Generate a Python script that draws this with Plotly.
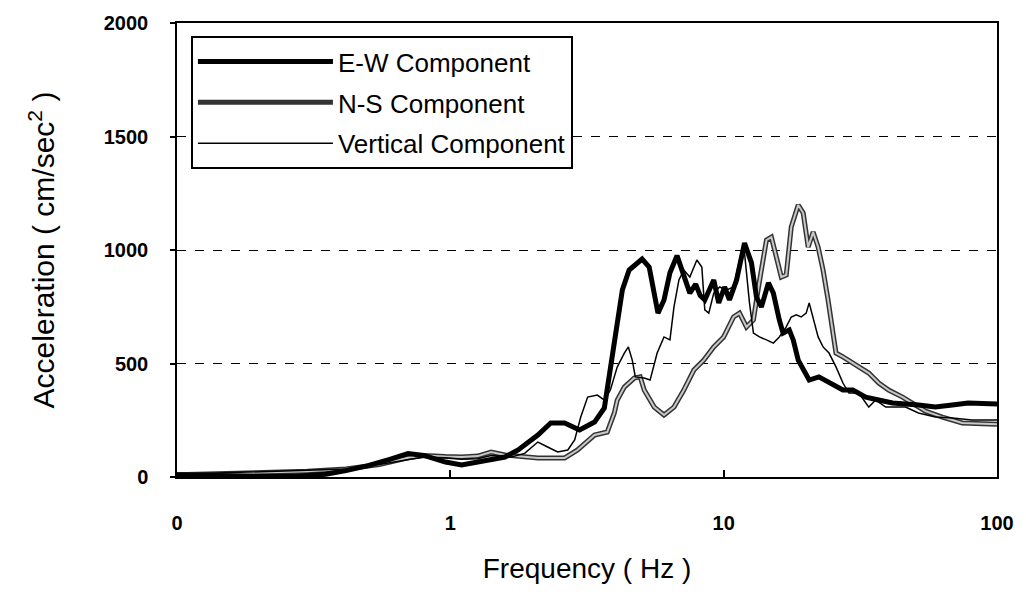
import plotly.graph_objects as go

# E-W component
ew_f = [0.1, 0.14, 0.2, 0.28, 0.35, 0.415, 0.5, 0.6, 0.7, 0.8, 0.9, 0.96, 1.1, 1.26, 1.41, 1.585,
        1.77, 2.09, 2.33, 2.62, 2.97, 3.37, 3.66, 3.85, 4.08, 4.26, 4.51, 4.83, 5.03, 5.34, 5.57,
        5.75, 6.05, 6.36, 6.75, 7.1, 7.52, 7.9, 8.2, 8.53, 9.2, 9.59, 10.08, 10.5, 11.15, 11.92,
        12.64, 13.18, 13.74, 14.58, 15.2, 15.98, 16.5, 17.38, 17.97, 18.74, 19.7, 20.55, 22.3,
        24.3, 27.3, 29.7, 33.1, 36.9, 41.5, 51.6, 59.5, 68.6, 78.4, 100]
ew_a = [10, 6, 3, 4, 12, 28, 50, 78, 103, 95, 75, 66, 53, 66, 75, 88,
        119, 185, 238, 238, 207, 242, 304, 485, 661, 824, 912, 943, 960, 925, 810,
        722, 780, 900, 975, 900, 810, 850, 800, 780, 868, 767, 837, 780, 868, 1031,
        943, 793, 749, 855, 810, 692, 634, 648, 604, 515, 471, 427, 441,
        414, 383, 383, 352, 339, 326, 317, 308, 317, 326, 322]

# N-S component
ns_f = [0.1, 0.2, 0.3, 0.415, 0.55, 0.7, 0.8, 0.96, 1.1, 1.26, 1.41, 1.585, 2.09, 2.62, 2.92,
        3.37, 3.75, 3.98, 4.08, 4.33, 4.71, 4.95, 5.12, 5.57, 6.05, 6.58, 7.15, 7.78, 8.46, 9.2,
        10.0, 10.87, 11.43, 12.12, 12.85, 13.41, 14.34, 14.95, 15.59, 16.25, 16.94, 17.67, 18.74,
        19.54, 20.38, 21.25, 22.16, 23.1, 24.09, 25.12, 25.76, 27.32, 29.7, 32.3, 33.95, 36.93,
        40.15, 45.13, 49.09, 54.72, 63.1, 74.6, 100]
ns_a = [10, 18, 25, 35, 55, 85, 95, 90, 88, 92, 110, 97, 84, 84, 119,
        185, 198, 282, 339, 396, 436, 441, 383, 308, 273, 308, 383, 471, 515, 573,
        617, 705, 722, 661, 692, 837, 1044, 1057, 969, 881, 890, 1101, 1198,
        1163, 1013, 1079, 1013, 912, 780, 634, 546, 529, 502, 471, 458, 414,
        383, 352, 326, 290, 264, 238, 232]

# Vertical component
ud_f = [0.1, 0.2, 0.3, 0.415, 0.55, 0.7, 0.8, 0.96, 1.1, 1.26, 1.41, 1.585, 1.67, 1.87, 2.09,
        2.27, 2.47, 2.69, 2.85, 3.0, 3.18, 3.45, 3.66, 3.85, 4.08, 4.33, 4.48, 4.63, 4.75, 5.12,
        5.38, 5.71, 6.05, 6.36, 6.58, 6.86, 7.15, 7.52, 7.98, 8.32, 8.53, 8.82, 9.2, 9.67, 10.25,
        10.87, 11.43, 11.92, 12.43, 12.85, 13.52, 14.34, 15.2, 15.98, 16.94, 17.67, 18.43, 19.21,
        20.04, 20.55, 21.25, 22.16, 23.1, 24.29, 25.76, 27.32, 28.72, 31.23, 33.95, 36.0, 39.15,
        42.58, 46.29, 51.6, 59.5, 68.6, 81.1, 100]
ud_a = [12, 22, 28, 35, 55, 78, 88, 85, 78, 80, 95, 90, 88, 104, 154,
        132, 110, 119, 163, 264, 352, 361, 339, 383, 485, 546, 573, 515, 441, 436,
        427, 546, 617, 604, 749, 868, 912, 881, 956, 925, 736, 722, 810, 837, 824,
        837, 956, 987, 767, 634, 617, 604, 590, 617, 661, 705, 714, 705,
        722, 767, 705, 617, 573, 546, 485, 414, 370, 370, 308, 339, 308,
        308, 308, 282, 264, 260, 251, 251]

x_tickvals = [0.1, 1, 10, 100]
x_ticktext = ["0", "1", "10", "100"]
y_tickvals = [0, 500, 1000, 1500, 2000]

FONT = "Liberation Sans, Arial, sans-serif"

fig = go.Figure()
fig.add_trace(go.Scatter(x=ns_f, y=ns_a, mode="lines", name="N-S Component",
                         legendgroup="ns", legendrank=2,
                         line=dict(color="#333333", width=5)))
fig.add_trace(go.Scatter(x=ns_f, y=ns_a, mode="lines", name="N-S inner", showlegend=False,
                         legendgroup="ns",
                         line=dict(color="#c8c8c8", width=2), hoverinfo="skip"))
fig.add_trace(go.Scatter(x=ud_f, y=ud_a, mode="lines", name="Vertical Component",
                         legendgroup="ud", legendrank=3,
                         line=dict(color="black", width=1.5)))
fig.add_trace(go.Scatter(x=ew_f, y=ew_a, mode="lines", name="E-W Component",
                         legendgroup="ew", legendrank=1,
                         line=dict(color="black", width=5)))

fig.update_layout(
    width=1026, height=597,
    margin=dict(l=177, r=24, t=23, b=120),
    paper_bgcolor="white", plot_bgcolor="white",
    font=dict(family=FONT, color="black"),
    showlegend=True,
    legend=dict(x=0.017, y=0.971, xanchor="left", yanchor="top",
                bgcolor="white", bordercolor="black", borderwidth=2,
                font=dict(size=26, family=FONT, color="black"),
                itemwidth=135, tracegroupgap=4,
                traceorder="grouped"),
    xaxis=dict(type="log", range=[-1, 2], tickvals=x_tickvals, ticktext=x_ticktext,
               ticks="inside", ticklen=7, tickwidth=1.5, tickcolor="black",
               showline=True, linecolor="black", linewidth=1.5, mirror=True,
               showgrid=False, zeroline=False,
               tickfont=dict(size=20, family=FONT, weight="bold"),
               ticklabelstandoff=27,
               title=dict(text="Frequency ( Hz )", font=dict(size=28, family=FONT), standoff=26)),
    yaxis=dict(range=[0, 2000], tickvals=y_tickvals,
               ticks="outside", ticklen=5, tickwidth=1.5, tickcolor="black",
               showline=True, linecolor="black", linewidth=1.5, mirror=True,
               showgrid=True, gridcolor="black", gridwidth=1.2, griddash="dash",
               zeroline=False,
               tickfont=dict(size=20, family=FONT, weight="bold"),
               ticklabelstandoff=18,
               title=dict(text="Acceleration ( cm/sec<sup>2</sup> )", font=dict(size=30, family=FONT), standoff=40)),
)

fig.write_html("out.html")
